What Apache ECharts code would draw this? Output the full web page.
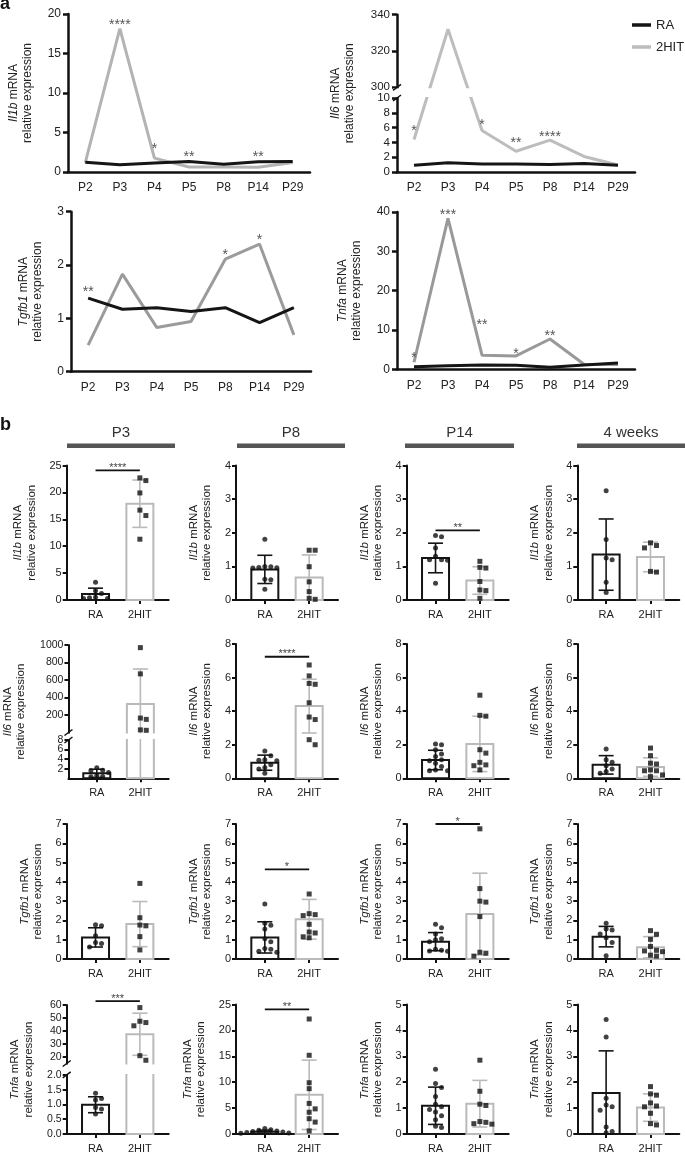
<!DOCTYPE html>
<html>
<head>
<meta charset="utf-8">
<script src="https://cdn.jsdelivr.net/npm/echarts@6.0.0/dist/echarts.min.js"></script>
<style>
html,body{margin:0;padding:0;background:#fff;}
#chart{width:685px;height:1154px;}
</style>
</head>
<body>
<div id="chart"></div>
<script>
// ================= DATA =================
// ---- panel a : time course (line charts) ----
const timepoints = ['P2','P3','P4','P5','P8','P14','P29'];
const il1bRA  = [1.22, 0.92, 1.13, 1.34, 0.97, 1.30, 1.34];
const il1bHIT = [1.20, 18.15, 1.76, 0.63, 0.63, 0.60, 1.20];
const il6RA   = [0.90, 1.25, 1.08, 1.08, 1.00, 1.15, 0.90];
const il6HIT  = [4.40, 332, 5.60, 2.80, 4.30, 2.10, 0.95];
const tgfb1RA  = [1.38, 1.17, 1.20, 1.13, 1.20, 0.92, 1.20];
const tgfb1HIT = [0.50, 1.83, 0.83, 0.94, 2.11, 2.39, 0.69];
const tnfaRA  = [0.67, 0.90, 1.10, 1.00, 0.50, 1.10, 1.60];
const tnfaHIT = [1.80, 38.4, 3.60, 3.40, 7.70, 1.30, 1.20];
// significance marks: [timepoint, value, text]
const il1bStars  = [['P3',19.0,'****'],['P4',3.3,'*'],['P5',2.3,'**'],['P14',2.3,'**']];
const il6Stars   = [['P2',5.95,'*'],['P4',6.7,'*'],['P5',4.3,'**'],['P8',5.1,'****']];
const tgfb1Stars = [['P2',1.56,'**'],['P8',2.25,'*'],['P14',2.52,'*']];
const tnfaStars  = [['P2',3.6,'*'],['P3',40.1,'***'],['P4',12.1,'**'],['P5',4.7,'*'],['P8',9.3,'**']];
// tick labels panel a
const aIl1bTicks = ['0','5','10','15','20'];
const aIl6LowTicks = ['0','2','4','6','8','10'];
const aIl6HighTicks = ['300','320','340'];
const aTgfb1Ticks = ['0','1','2','3'];
const aTnfaTicks = ['0','10','20','30','40'];

// ---- panel b : bar + scatter ----
const groups = ['RA','2HIT'];
const bAges = ['P3','P8','P14','4 weeks'];
const bGenes = ['Il1b','Il6','Tgfb1','Tnfa'];

const il1bP3RA = [3.3, 1.7, 1.2, 0.5, 0.4, 0.3, 0.3];
const il1bP3HIT = [22.7, 22.2, 19.9, 16.7, 15.7, 11.3];
const il1bP3Mean = [1.1, 17.9], il1bP3SD = [1.1, 4.4];
const il1bP8RA = [1.81, 1.0, 0.99, 0.97, 0.96, 0.95, 0.62, 0.6, 0.32];
const il1bP8HIT = [1.48, 1.48, 0.99, 0.54, 0.25, 0.05, 0.02];
const il1bP8Mean = [0.91, 0.67], il1bP8SD = [0.42, 0.67];
const il1bP14RA = [1.92, 1.88, 1.55, 1.3, 1.2, 1.2, 1.18, 0.5];
const il1bP14HIT = [1.15, 0.97, 0.95, 0.55, 0.3, 0.28, 0.05];
const il1bP14Mean = [1.25, 0.58], il1bP14SD = [0.44, 0.41];
const il1b4wRA = [3.25, 1.8, 1.25, 1.2, 0.53, 0.22];
const il1b4wHIT = [1.7, 1.62, 1.55, 0.85, 0.83];
const il1b4wMean = [1.35, 1.28], il1b4wSD = [1.06, 0.44];

const il6P3RA = [2.2, 1.7, 1.6, 1.2, 0.6, 0.4, 0.3];
const il6P3HIT = [970, 670, 165, 150, 30, 25];
const il6P3Mean = [1.04, 326], il6P3SD = [0.86, 400];
const il6P8RA = [1.62, 1.35, 1.1, 1.08, 1.05, 0.8, 0.65, 0.55, 0.3];
const il6P8HIT = [6.75, 6.1, 5.65, 5.6, 4.5, 3.65, 3.5, 2.3, 2.0];
const il6P8Mean = [0.93, 4.3], il6P8SD = [0.45, 1.6];
const il6P14RA = [2.05, 2.0, 1.7, 1.45, 1.3, 1.1, 1.05, 0.9, 0.7, 0.5, 0.45, 0.45];
const il6P14HIT = [4.95, 3.75, 3.7, 1.7, 1.5, 0.95, 0.8, 0.75, 0.5];
const il6P14Mean = [1.09, 2.05], il6P14SD = [0.58, 1.65];
const il64wRA = [1.75, 1.1, 0.95, 0.75, 0.55, 0.4, 0.3];
const il64wHIT = [1.8, 1.35, 0.9, 0.85, 0.5, 0.45, 0.45, 0.2, 0.1];
const il64wMean = [0.8, 0.67], il64wSD = [0.55, 0.55];

const tgfb1P3RA = [1.78, 1.72, 1.2, 0.85, 0.8, 0.62];
const tgfb1P3HIT = [3.92, 2.14, 1.76, 1.72, 1.16, 0.47];
const tgfb1P3Mean = [1.12, 1.81], tgfb1P3SD = [0.5, 1.17];
const tgfb1P8RA = [2.85, 1.85, 1.75, 1.55, 1.05, 0.9, 0.55, 0.5, 0.4, 0.35];
const tgfb1P8HIT = [3.37, 2.35, 2.3, 2.25, 1.8, 1.4, 1.35, 1.15, 1.1];
const tgfb1P8Mean = [1.12, 2.06], tgfb1P8SD = [0.81, 1.03];
const tgfb1P14RA = [1.8, 1.62, 1.3, 1.05, 1.0, 0.9, 0.5, 0.45, 0.42, 0.4];
const tgfb1P14HIT = [6.75, 3.65, 3.0, 2.95, 2.2, 0.35, 0.3, 0.15];
const tgfb1P14Mean = [0.9, 2.33], tgfb1P14SD = [0.47, 2.12];
const tgfb14wRA = [1.85, 1.55, 1.5, 1.3, 1.1, 0.85, 0.17];
const tgfb14wHIT = [1.47, 1.28, 1.02, 0.65, 0.45, 0.42, 0.38, 0.2, 0.15];
const tgfb14wMean = [1.16, 0.61], tgfb14wSD = [0.53, 0.55];

const tnfaP3RA = [1.38, 1.2, 1.15, 0.9, 0.85, 0.68];
const tnfaP3HIT = [58, 47.5, 46.5, 44, 21, 17.5];
const tnfaP3Mean = [0.99, 37.5], tnfaP3SD = [0.27, 16.2];
const tnfaP8RA = [1.05, 0.8, 0.7, 0.6, 0.5, 0.4, 0.3, 0.2, 0.15];
const tnfaP8HIT = [22.2, 15.2, 9.9, 8.75, 5.9, 4.85, 4.2, 2.95, 2.3, 0.6];
const tnfaP8Mean = [0.45, 7.56], tnfaP8SD = [0.3, 6.7];
const tnfaP14RA = [2.5, 1.95, 1.8, 1.45, 1.15, 1.05, 0.95, 0.85, 0.7, 0.55, 0.3, 0.25];
const tnfaP14HIT = [2.85, 1.65, 1.15, 1.1, 0.48, 0.45, 0.4, 0.38];
const tnfaP14Mean = [1.09, 1.17], tnfaP14SD = [0.72, 0.9];
const tnfa4wRA = [4.42, 3.75, 1.38, 1.12, 1.05, 0.92, 0.27, 0.1, 0.05];
const tnfa4wHIT = [1.83, 1.55, 1.5, 1.2, 1.08, 1.05, 0.8, 0.4, 0.35];
const tnfa4wMean = [1.58, 1.02], tnfa4wSD = [1.63, 0.53];

// significance bars panel b: [value, text]
const il1bP3Sig = [24.1, '****'];
const il1bP14Sig = [2.07, '**'];
const il6P8Sig = [7.24, '****'];
const tgfb1P8Sig = [4.65, '*'];
const tgfb1P14Sig = [7.0, '*'];
const tnfaP3Sig = [63, '***'];
const tnfaP8Sig = [24.07, '**'];

// tick labels panel b
const bIl1bP3Ticks = ['0','5','10','15','20','25'];
const bIl1bTicks = ['0','1','2','3','4'];
const bIl6P3LowTicks = ['0','2','4','6','8'];
const bIl6P3HighTicks = ['200','400','600','800','1000'];
const bIl6Ticks = ['0','2','4','6','8'];
const bTgfb1Ticks = ['0','1','2','3','4','5','6','7'];
const bTnfaP3LowTicks = ['0.0','0.5','1.0','1.5','2.0'];
const bTnfaP3HighTicks = ['20','30','40','50','60'];
const bTnfaP8Ticks = ['0','5','10','15','20','25'];
const bTnfaTicks = ['0','1','2','3','4','5'];

// ================= LAYOUT / STYLE =================
const FONT = '"Liberation Sans", Arial, Helvetica, sans-serif';
const TXT = '#222';
const AX = '#111';
const RA_COLOR = '#151515';
const HIT_BAR = '#bababa';
// axis breaks (value domains + pixel split)
const il6ABreak  = {low: 10, high0: 300, high1: 340, lowPx: 74, gapPx: 10.7, highPx: 72.6};
const il6P3Break = {low: 8, high0: 0, high1: 1000, lowPx: 38.3, gapPx: 7.5, highPx: 87.5};
const tnfaP3Break = {low: 2, high0: 15, high1: 60, lowPx: 60.6, gapPx: 11.7, highPx: 60};

function textW(s, fs) {
  let w = 0;
  for (const ch of s) w += (ch === '.' ? 0.278 : 0.556);
  return w * fs;
}
function linearScale(ticks) {
  const vals = ticks.map(Number);
  return {D: v => v, max: vals[vals.length - 1], interval: vals[1] - vals[0], ticks};
}
function brokenScale(lowTicks, highTicks, b) {
  const D = v => v <= b.low ? v / b.low * b.lowPx
                            : b.lowPx + b.gapPx + (v - b.high0) / (b.high1 - b.high0) * b.highPx;
  const all = lowTicks.concat(highTicks);
  const custom = all.map(t => D(Number(t)));
  return {D, max: b.lowPx + b.gapPx + b.highPx, custom, ticks: all, brk: b,
    fmt: v => { const k = custom.findIndex(c => Math.abs(c - v) < 0.05); return k >= 0 ? all[k] : ''; }};
}
function maxLabelW(ticks, fs) { return Math.max(...ticks.map(t => textW(t, fs))); }

const option = {
  animation: false,
  backgroundColor: '#fff',
  textStyle: {fontFamily: FONT},
  grid: [], xAxis: [], yAxis: [], series: [],
  legend: {
    left: 632, top: 17, orient: 'vertical', icon: 'rect', itemWidth: 19, itemHeight: 3.5,
    itemGap: 6, padding: 0,
    textStyle: {fontSize: 13, color: TXT, fontFamily: FONT, lineHeight: 16},
    data: [
      {name: 'RA', itemStyle: {color: RA_COLOR}},
      {name: '2HIT', itemStyle: {color: '#bdbdbd'}}
    ]
  },
  graphic: []
};

function yAxisFor(gi, sc, name, o) {
  const lfs = sc.custom ? o.fs - 0.5 : o.fs;
  const ax = {
    type: 'value', gridIndex: gi, min: 0, max: sc.max,
    axisLine: {show: true, onZero: false, lineStyle: {color: AX, width: o.lw}},
    axisTick: {show: true, length: o.tickLen, lineStyle: {color: AX, width: o.lw}},
    axisLabel: {color: TXT, fontSize: lfs, lineHeight: sc.custom ? 7 : lfs, margin: o.margin, fontFamily: FONT, hideOverlap: false},
    splitLine: {show: false},
    name: '{i|' + name + '} mRNA\nrelative expression',
    nameLocation: 'middle', nameRotate: 90,
    nameGap: o.gapBase + maxLabelW(sc.ticks, o.fs),
    nameTextStyle: {color: TXT, fontSize: o.nfs, lineHeight: o.nlh, fontFamily: FONT,
      rich: {i: {fontStyle: 'italic', fontSize: o.nfs, lineHeight: o.nlh, color: TXT, fontFamily: FONT}}}
  };
  if (sc.custom) {
    ax.axisTick.customValues = sc.custom;
    ax.axisLabel.customValues = sc.custom;
    ax.axisLabel.formatter = sc.fmt;
  } else {
    ax.interval = sc.interval;
  }
  return ax;
}

function breakSeries(gi, b, lw) {
  return {
    type: 'custom', xAxisIndex: gi, yAxisIndex: gi, z: 4, silent: true, clip: false,
    data: [[0, 0]],
    renderItem(params, api) {
      const cs = params.coordSys;
      const yLow = api.coord([0, b.lowPx])[1];
      const yHigh = api.coord([0, b.lowPx + b.gapPx])[1];
      return {type: 'group', children: [
        {type: 'rect', shape: {x: cs.x - lw - 1, y: yHigh + 1, width: cs.width + lw + 2, height: yLow - yHigh - 2},
         style: {fill: '#fff'}},
        {type: 'line', shape: {x1: cs.x - 4, y1: yHigh + 3, x2: cs.x + 4, y2: yHigh - 3},
         style: {stroke: AX, lineWidth: 1.5}},
        {type: 'line', shape: {x1: cs.x - 4, y1: yLow + 3, x2: cs.x + 4, y2: yLow - 3},
         style: {stroke: AX, lineWidth: 1.5}}
      ]};
    }
  };
}

// ================= PANEL a =================
const aCharts = [
  {gene: 'Il1b', ra: il1bRA, hit: il1bHIT, stars: il1bStars, sc: linearScale(aIl1bTicks), hitColor: '#b3b3b3', g: {left: 68, width: 242, bottom: 172}},
  {gene: 'Il6', ra: il6RA, hit: il6HIT, stars: il6Stars, sc: brokenScale(aIl6LowTicks, aIl6HighTicks, il6ABreak), hitColor: '#bdbdbd', g: {left: 397, width: 238, bottom: 172}},
  {gene: 'Tgfb1', ra: tgfb1RA, hit: tgfb1HIT, stars: tgfb1Stars, sc: linearScale(aTgfb1Ticks), hitColor: '#9b9b9b', g: {left: 71, width: 240, bottom: 371.7}},
  {gene: 'Tnfa', ra: tnfaRA, hit: tnfaHIT, stars: tnfaStars, sc: linearScale(aTnfaTicks), hitColor: '#999999', g: {left: 397, width: 238, bottom: 369.3}}
];
const aHeights = [158, null, 160, 157.3];
const STAR_A_FS = 14;

aCharts.forEach((c, k) => {
  const gi = option.grid.length;
  const h = c.sc.custom ? c.sc.max : aHeights[k];
  option.grid.push({left: c.g.left, top: c.g.bottom - h, width: c.g.width, height: h, containLabel: false});
  option.xAxis.push({
    type: 'category', gridIndex: gi, data: timepoints, boundaryGap: true,
    axisLine: {lineStyle: {color: AX, width: 2.5}},
    axisTick: {alignWithLabel: true, length: 6, lineStyle: {color: AX, width: 2.5}},
    axisLabel: {color: TXT, fontSize: 12, margin: 10, interval: 0, fontFamily: FONT},
    splitLine: {show: false}
  });
  option.yAxis.push(yAxisFor(gi, c.sc, c.gene, {lw: 2.5, tickLen: 5, fs: 12, margin: 7, nfs: 12, nlh: 14, gapBase: 20}));
  const D = c.sc.D;
  option.series.push({
    name: '2HIT', type: 'line', xAxisIndex: gi, yAxisIndex: gi, z: 2, showSymbol: false, symbol: 'none',
    lineStyle: {color: c.hitColor, width: 3}, itemStyle: {color: c.hitColor},
    data: c.hit.map(D), silent: true
  });
  option.series.push({
    name: 'RA', type: 'line', xAxisIndex: gi, yAxisIndex: gi, z: 3, showSymbol: false, symbol: 'none',
    lineStyle: {color: RA_COLOR, width: 3}, itemStyle: {color: RA_COLOR},
    data: c.ra.map(D), silent: true
  });
  const stars = c.stars;
  option.series.push({
    type: 'custom', xAxisIndex: gi, yAxisIndex: gi, z: 6, silent: true, clip: false,
    data: stars.map(s => [timepoints.indexOf(s[0]), D(s[1])]),
    renderItem(params, api) {
      const p = api.coord([api.value(0), api.value(1)]);
      return {type: 'text', x: p[0], y: p[1] + 0.23 * STAR_A_FS,
        style: {text: stars[params.dataIndex][2], fill: '#555', fontSize: STAR_A_FS, fontFamily: FONT,
                align: 'center', verticalAlign: 'middle'}};
    }
  });
  if (c.sc.brk) option.series.push(breakSeries(gi, c.sc.brk, 2.5));
});

// ================= PANEL b =================
const B_XMIN = -0.65, B_XMAX = 1.65, B_W = 102, BAR_W = 27;
const colLeft = [66.7, 236, 406.7, 577.3];
const rowTop = [465.5, 644, 824, 1004.5];
const rowBottom = [600, 778.3, 959, 1137.3];
const GROUP_STROKE = [RA_COLOR, HIT_BAR];

const bPanels = [
  [
    {ra: il1bP3RA, hit: il1bP3HIT, mean: il1bP3Mean, sd: il1bP3SD, sc: linearScale(bIl1bP3Ticks), sig: il1bP3Sig},
    {ra: il1bP8RA, hit: il1bP8HIT, mean: il1bP8Mean, sd: il1bP8SD, sc: linearScale(bIl1bTicks)},
    {ra: il1bP14RA, hit: il1bP14HIT, mean: il1bP14Mean, sd: il1bP14SD, sc: linearScale(bIl1bTicks), sig: il1bP14Sig},
    {ra: il1b4wRA, hit: il1b4wHIT, mean: il1b4wMean, sd: il1b4wSD, sc: linearScale(bIl1bTicks)}
  ],
  [
    {ra: il6P3RA, hit: il6P3HIT, mean: il6P3Mean, sd: il6P3SD, sc: brokenScale(bIl6P3LowTicks, bIl6P3HighTicks, il6P3Break)},
    {ra: il6P8RA, hit: il6P8HIT, mean: il6P8Mean, sd: il6P8SD, sc: linearScale(bIl6Ticks), sig: il6P8Sig},
    {ra: il6P14RA, hit: il6P14HIT, mean: il6P14Mean, sd: il6P14SD, sc: linearScale(bIl6Ticks)},
    {ra: il64wRA, hit: il64wHIT, mean: il64wMean, sd: il64wSD, sc: linearScale(bIl6Ticks)}
  ],
  [
    {ra: tgfb1P3RA, hit: tgfb1P3HIT, mean: tgfb1P3Mean, sd: tgfb1P3SD, sc: linearScale(bTgfb1Ticks)},
    {ra: tgfb1P8RA, hit: tgfb1P8HIT, mean: tgfb1P8Mean, sd: tgfb1P8SD, sc: linearScale(bTgfb1Ticks), sig: tgfb1P8Sig},
    {ra: tgfb1P14RA, hit: tgfb1P14HIT, mean: tgfb1P14Mean, sd: tgfb1P14SD, sc: linearScale(bTgfb1Ticks), sig: tgfb1P14Sig},
    {ra: tgfb14wRA, hit: tgfb14wHIT, mean: tgfb14wMean, sd: tgfb14wSD, sc: linearScale(bTgfb1Ticks)}
  ],
  [
    {ra: tnfaP3RA, hit: tnfaP3HIT, mean: tnfaP3Mean, sd: tnfaP3SD, sc: brokenScale(bTnfaP3LowTicks, bTnfaP3HighTicks, tnfaP3Break), sig: tnfaP3Sig},
    {ra: tnfaP8RA, hit: tnfaP8HIT, mean: tnfaP8Mean, sd: tnfaP8SD, sc: linearScale(bTnfaP8Ticks), sig: tnfaP8Sig},
    {ra: tnfaP14RA, hit: tnfaP14HIT, mean: tnfaP14Mean, sd: tnfaP14SD, sc: linearScale(bTnfaTicks)},
    {ra: tnfa4wRA, hit: tnfa4wHIT, mean: tnfa4wMean, sd: tnfa4wSD, sc: linearScale(bTnfaTicks)}
  ]
];

function swarmOffsets(vals, D, pxPerY) {
  const xPx = B_W / (B_XMAX - B_XMIN);
  const STEP = 6, MIND = 5.6;
  const placed = [];
  const out = new Array(vals.length).fill(0);
  const idx = vals.map((_, i) => i).sort((a, b) => vals[b] - vals[a]);
  for (const i of idx) {
    const y = D(vals[i]) * pxPerY;
    for (let k = 0; k < 15; k++) {
      const m = k === 0 ? 0 : (k % 2 ? Math.ceil(k / 2) : -Math.ceil(k / 2));
      const x = m * STEP;
      if (placed.every(p => (p.x - x) ** 2 + (p.y - y) ** 2 >= MIND * MIND)) {
        placed.push({x, y}); out[i] = x / xPx; break;
      }
    }
  }
  return out;
}

const SIG_X0 = 0.0, SIG_X1 = 1.0, STAR_B_FS = 11;

bPanels.forEach((row, r) => {
  row.forEach((p, c) => {
    const gi = option.grid.length;
    const sc = p.sc, D = sc.D;
    const h = sc.custom ? sc.max : rowBottom[r] - rowTop[r];
    option.grid.push({left: colLeft[c], top: rowBottom[r] - h, width: B_W, height: h});
    option.xAxis.push({
      type: 'value', gridIndex: gi, min: B_XMIN, max: B_XMAX,
      axisLine: {onZero: false, lineStyle: {color: AX, width: 2}},
      axisTick: {show: true, customValues: [0, 1], length: 4, lineStyle: {color: AX, width: 2}},
      axisLabel: {customValues: [0, 1], formatter: v => groups[Math.round(v)], color: TXT, fontSize: 11, margin: 9, fontFamily: FONT},
      splitLine: {show: false}
    });
    option.yAxis.push(yAxisFor(gi, sc, bGenes[r], {lw: 2, tickLen: 4, fs: 11, margin: 5, nfs: 11.5, nlh: 13.5, gapBase: 16}));
    const pxPerY = sc.custom ? 1 : h / sc.max;
    const mean = p.mean, sd = p.sd;
    // bars
    option.series.push({
      type: 'custom', xAxisIndex: gi, yAxisIndex: gi, z: 2, silent: true, clip: false,
      data: mean.map((m, i) => [i, D(m)]),
      renderItem(params, api) {
        const i = api.value(0);
        const t = api.coord([i, api.value(1)]), b = api.coord([i, 0]);
        return {type: 'rect', shape: {x: t[0] - BAR_W / 2, y: t[1], width: BAR_W, height: b[1] - t[1]},
          style: {fill: '#fff', stroke: GROUP_STROKE[i], lineWidth: 2}};
      }
    });
    // error bars
    option.series.push({
      type: 'custom', xAxisIndex: gi, yAxisIndex: gi, z: 3, silent: true, clip: false,
      data: mean.map((m, i) => [i, D(Math.max(0, m - sd[i])), D(m + sd[i])]),
      renderItem(params, api) {
        const i = api.value(0);
        const lo = api.coord([i, api.value(1)]), hi = api.coord([i, api.value(2)]);
        const st = {stroke: GROUP_STROKE[i], lineWidth: 1.6};
        return {type: 'group', children: [
          {type: 'line', shape: {x1: lo[0], y1: lo[1], x2: hi[0], y2: hi[1]}, style: st},
          {type: 'line', shape: {x1: lo[0] - 7.5, y1: lo[1], x2: lo[0] + 7.5, y2: lo[1]}, style: st},
          {type: 'line', shape: {x1: hi[0] - 7.5, y1: hi[1], x2: hi[0] + 7.5, y2: hi[1]}, style: st}
        ]};
      }
    });
    if (sc.brk) option.series.push(breakSeries(gi, sc.brk, 2));
    // points
    const offRA = swarmOffsets(p.ra, D, pxPerY);
    const offHIT = swarmOffsets(p.hit, D, pxPerY);
    option.series.push({
      name: 'RA points', type: 'scatter', xAxisIndex: gi, yAxisIndex: gi, z: 5, silent: true, clip: false,
      symbol: 'circle', symbolSize: 5, itemStyle: {color: '#111'},
      data: p.ra.map((v, k) => [0 + offRA[k], D(v)])
    });
    option.series.push({
      name: '2HIT points', type: 'scatter', xAxisIndex: gi, yAxisIndex: gi, z: 5, silent: true, clip: false,
      symbol: 'rect', symbolSize: 5, itemStyle: {color: '#111'},
      data: p.hit.map((v, k) => [1 + offHIT[k], D(v)])
    });
    if (p.sig) {
      const sig = p.sig;
      option.series.push({
        type: 'custom', xAxisIndex: gi, yAxisIndex: gi, z: 6, silent: true, clip: false,
        data: [[SIG_X0, SIG_X1, D(sig[0])]],
        renderItem(params, api) {
          const a = api.coord([api.value(0), api.value(2)]);
          const b = api.coord([api.value(1), api.value(2)]);
          return {type: 'group', children: [
            {type: 'line', shape: {x1: a[0], y1: a[1], x2: b[0], y2: b[1]}, style: {stroke: AX, lineWidth: 1.8}},
            {type: 'text', x: (a[0] + b[0]) / 2, y: a[1] - 5 + 0.23 * STAR_B_FS,
             style: {text: sig[1], fill: '#444', fontSize: STAR_B_FS, fontFamily: FONT, align: 'center', verticalAlign: 'middle'}}
          ]};
        }
      });
    }
  });
});

// ================= decorations =================
option.graphic.push({type: 'text', x: 0, y: 3.7, style: {text: 'a', fontSize: 18, fontWeight: 'bold', fontFamily: FONT, fill: '#111', verticalAlign: 'middle'}});
option.graphic.push({type: 'text', x: 0, y: 425.4, style: {text: 'b', fontSize: 18, fontWeight: 'bold', fontFamily: FONT, fill: '#111', verticalAlign: 'middle'}});
const headerSpans = [[67, 175], [237, 345], [405, 514], [577, 685]];
bAges.forEach((t, i) => {
  const [x0, x1] = headerSpans[i];
  option.graphic.push({type: 'text', x: (x0 + x1) / 2, y: 433, style: {text: t, fontSize: 15, fontFamily: FONT, fill: '#333', align: 'center', verticalAlign: 'middle'}});
  option.graphic.push({type: 'rect', shape: {x: x0, y: 443.5, width: x1 - x0, height: 4.4}, style: {fill: '#555'}});
});

const chart = echarts.init(document.getElementById('chart'), null, {renderer: 'canvas', width: 685, height: 1154});
chart.setOption(option);
</script>
</body>
</html>
